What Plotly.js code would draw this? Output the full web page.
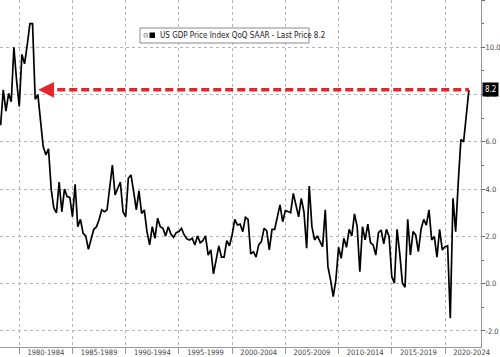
<!DOCTYPE html>
<html>
<head>
<meta charset="utf-8">
<script src="https://cdn.plot.ly/plotly-3.0.1.min.js"></script>
<style>html,body{margin:0;padding:0;background:#fff}#chart{width:500px;height:357px}</style>
</head>
<body>
<div id="chart"></div>
<script>
// Quarterly series, first quarter 1978 Q1
var startYear = 1978;
var values = [
 6.7, 8.2, 7.3, 8.05, 7.7, 10.0, 8.6, 7.5, 9.7, 9.3,
 10.1, 11.0, 11.0, 7.8, 8.0, 6.9, 5.8, 5.45, 5.7, 4.0,
 3.2, 3.0, 4.3, 3.04, 4.0, 3.68, 3.65, 2.83, 4.2, 2.41,
 2.72, 2.13, 2.02, 1.45, 1.9, 2.3, 2.4, 2.7, 3.12, 3.04,
 3.12, 4.0, 5.02, 3.75, 4.0, 4.3, 3.04, 2.83, 4.46, 4.6,
 3.89, 3.12, 3.93, 2.97, 3.12, 2.2, 1.64, 2.41, 1.92, 2.77,
 2.41, 2.34, 2.02, 2.41, 2.1, 1.96, 2.16, 2.2, 2.34, 2.06,
 1.9, 1.85, 1.92, 1.64, 2.02, 1.73, 1.82, 2.02, 1.21, 1.43,
 0.41, 1.0, 1.6, 1.12, 1.12, 1.82, 1.6, 2.06, 2.72, 2.48,
 2.52, 2.2, 2.81, 2.72, 1.26, 1.35, 1.12, 1.64, 1.78, 2.34,
 2.24, 1.43, 2.3, 2.3, 2.9, 3.33, 2.62, 3.09, 3.05, 3.0,
 3.82, 3.26, 2.83, 3.61, 3.04, 1.5, 4.13, 2.41, 1.85, 2.02,
 1.78, 1.56, 3.12, 0.72, 0.16, -0.55, 0.16, 1.54, 1.07, 1.92,
 1.54, 2.3, 2.02, 2.95, 2.41, 0.51, 2.41, 1.85, 2.52, 1.73,
 1.64, 1.21, 2.16, 2.27, 1.68, 2.3, 1.99, 0.3, 0.02, 2.3,
 1.28, 0.02, -0.15, 2.72, 1.21, 2.2, 2.06, 1.35, 2.3, 2.72,
 2.48, 3.12, 1.85, 1.99, 1.12, 2.3, 1.43, 1.56, 1.6, -1.46,
 3.61, 2.2, 4.3, 6.1, 6.0, 7.1, 8.2
];
var periodLabels = ["1980-1984","1985-1989","1990-1994","1995-1999","2000-2004","2005-2009","2010-2014","2015-2019","2020-2024"];
var periodMids = ["1982-07-01","1987-07-01","1992-07-01","1997-07-01","2002-07-01","2007-07-01","2012-07-01","2017-07-01","2022-07-01"];
var periodStarts = ["1980-01-01","1985-01-01","1990-01-01","1995-01-01","2000-01-01","2005-01-01","2010-01-01","2015-01-01","2020-01-01"];
var yTickVals = [-2, 0, 2, 4, 6, 8, 10, 12];
var yTickText = ["-2.0", "0.0", "2.0", "4.0", "6.0", "8.0", "10.0", "12.0"];
var seriesName = "US GDP Price Index QoQ SAAR - Last Price 8.2";
var lastPrice = 8.2;

var quarterEnds = ["03-31","06-30","09-30","12-31"];
var dates = values.map(function(v, i){
  return (startYear + Math.floor(i/4)) + "-" + quarterEnds[i % 4];
});

var trace = {
  x: dates, y: values, type: "scatter", mode: "lines",
  line: {color: "#000", width: 1.7}, name: seriesName, hoverinfo: "skip"
};

var fontFam = "Liberation Sans Narrow, DejaVu Sans Condensed, Liberation Sans, Arial, sans-serif";
var layout = {
  width: 500, height: 357,
  margin: {l: 0, r: 19, t: 0, b: 10},
  paper_bgcolor: "#fff", plot_bgcolor: "#fff",
  showlegend: false,
  xaxis: {
    type: "date",
    range: ["1978-03-10", "2023-05-20"],
    tickmode: "array", tickvals: periodMids, ticktext: periodLabels,
    ticks: "", showgrid: false, zeroline: false,
    showline: true, linecolor: "#999", linewidth: 1,
    ticklabelstandoff: -2,
    tickfont: {family: fontFam, size: 7.5, color: "#444"},
    minor: {tickmode: "array", tickvals: periodStarts, showgrid: true,
            gridcolor: "#b5b5b5", griddash: "dot", gridwidth: 1,
            ticks: "outside", ticklen: 6, tickcolor: "#999"}
  },
  yaxis: {
    side: "right", range: [-2.68, 12.0],
    tickmode: "array", tickvals: yTickVals, ticktext: yTickText,
    ticks: "outside", ticklen: 3, tickcolor: "#666",
    ticklabelstandoff: -1,
    showgrid: true, gridcolor: "#b5b5b5", griddash: "dot", gridwidth: 1,
    zeroline: false, showline: true, linecolor: "#999", linewidth: 1,
    tickfont: {family: fontFam, size: 7.5, color: "#444"},
    minor: {tickmode: "linear", tick0: 0, dtick: 1, ticks: "outside", ticklen: 2, tickcolor: "#666", showgrid: false}
  },
  shapes: [
    {type: "line", xref: "x", yref: "y", x0: "1982-06-10", x1: dates[dates.length-1], y0: lastPrice, y1: lastPrice,
     line: {color: "#e3262c", width: 3.5, dash: "8px,4px"}},
    {type: "rect", xref: "paper", yref: "paper", x0: 140/481, x1: 309/481, y0: (347-43)/347, y1: (347-28)/347,
     line: {color: "#888", width: 1}, fillcolor: "#fff"},
    {type: "rect", xref: "paper", yref: "paper", x0: 144/481, x1: 147.5/481, y0: (347-37)/347, y1: (347-33.5)/347,
     line: {color: "#999", width: 0.8}, fillcolor: "#ddd"},
    {type: "rect", xref: "paper", yref: "paper", x0: 149.5/481, x1: 155/481, y0: (347-38)/347, y1: (347-32.5)/347,
     line: {width: 0}, fillcolor: "#000"}
  ],
  annotations: [
    {xref: "paper", yref: "paper", x: 157.5/481, y: (347-35.5)/347, xanchor: "left", yanchor: "middle",
     text: seriesName, showarrow: false, font: {family: fontFam, size: 8, color: "#222"}},
    {xref: "x", yref: "y", x: "1981-10-12", y: lastPrice, ax: 10, ay: 0, text: "",
     showarrow: true, arrowhead: 2, arrowsize: 0.9, arrowwidth: 3.5, arrowcolor: "#e3262c"},
    {xref: "paper", yref: "y", x: 1, y: lastPrice, xanchor: "left", yanchor: "middle", xshift: 1,
     text: "8.2", showarrow: false, bgcolor: "#000", borderpad: 2,
     font: {family: fontFam, size: 8, color: "#fff"}}
  ]
};

Plotly.newPlot("chart", [trace], layout, {displayModeBar: false, staticPlot: true});
</script>
</body>
</html>
